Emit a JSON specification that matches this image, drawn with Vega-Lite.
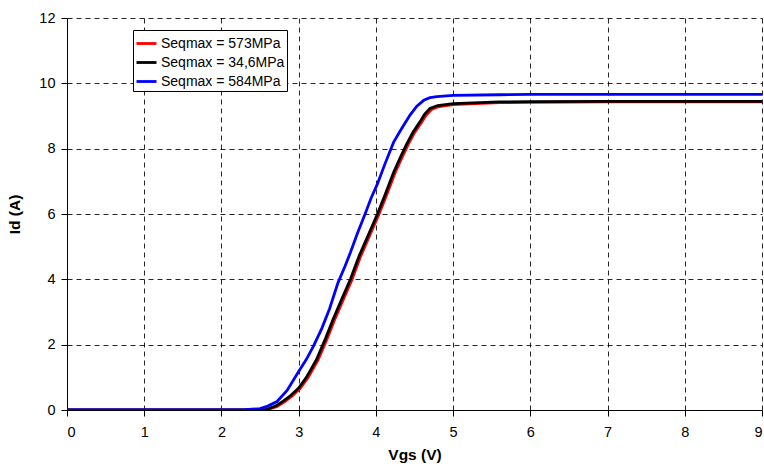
{
  "$schema": "https://vega.github.io/schema/vega-lite/v6.json",
  "autosize": {"type": "none"},
  "width": 695,
  "height": 392,
  "padding": {"left": 67, "top": 18, "right": 2, "bottom": 62},
  "background": "white",
  "config": {
    "view": {"stroke": null},
    "font": "Liberation Sans",
    "axis": {
      "grid": true,
      "gridColor": "#000000",
      "gridDash": [5, 4],
      "gridWidth": 1,
      "gridOpacity": 0.85,
      "domainColor": "#000000",
      "domainWidth": 1,
      "tickColor": "#000000",
      "tickSize": 6,
      "labelFont": "Liberation Sans",
      "labelFontSize": 14.5,
      "labelColor": "#000000",
      "titleFont": "Liberation Sans",
      "titleFontSize": 15.5,
      "titleFontWeight": "bold",
      "titleColor": "#000000"
    }
  },
  "data": {
    "values": [
      {"s": "Seqmax = 573MPa", "vgs": 0, "id": 0},
      {"s": "Seqmax = 573MPa", "vgs": 1, "id": 0},
      {"s": "Seqmax = 573MPa", "vgs": 2, "id": 0},
      {"s": "Seqmax = 573MPa", "vgs": 2.42, "id": 0},
      {"s": "Seqmax = 573MPa", "vgs": 2.61, "id": 0.02},
      {"s": "Seqmax = 573MPa", "vgs": 2.72, "id": 0.11},
      {"s": "Seqmax = 573MPa", "vgs": 2.82, "id": 0.26},
      {"s": "Seqmax = 573MPa", "vgs": 2.92, "id": 0.44},
      {"s": "Seqmax = 573MPa", "vgs": 3.02, "id": 0.66},
      {"s": "Seqmax = 573MPa", "vgs": 3.12, "id": 0.99},
      {"s": "Seqmax = 573MPa", "vgs": 3.25, "id": 1.53},
      {"s": "Seqmax = 573MPa", "vgs": 3.37, "id": 2.19},
      {"s": "Seqmax = 573MPa", "vgs": 3.47, "id": 2.79},
      {"s": "Seqmax = 573MPa", "vgs": 3.57, "id": 3.34},
      {"s": "Seqmax = 573MPa", "vgs": 3.69, "id": 3.99},
      {"s": "Seqmax = 573MPa", "vgs": 3.8, "id": 4.69},
      {"s": "Seqmax = 573MPa", "vgs": 3.92, "id": 5.34},
      {"s": "Seqmax = 573MPa", "vgs": 4.04, "id": 5.99},
      {"s": "Seqmax = 573MPa", "vgs": 4.14, "id": 6.59},
      {"s": "Seqmax = 573MPa", "vgs": 4.25, "id": 7.27},
      {"s": "Seqmax = 573MPa", "vgs": 4.34, "id": 7.74},
      {"s": "Seqmax = 573MPa", "vgs": 4.42, "id": 8.14},
      {"s": "Seqmax = 573MPa", "vgs": 4.5, "id": 8.49},
      {"s": "Seqmax = 573MPa", "vgs": 4.59, "id": 8.8},
      {"s": "Seqmax = 573MPa", "vgs": 4.65, "id": 9.02},
      {"s": "Seqmax = 573MPa", "vgs": 4.72, "id": 9.2},
      {"s": "Seqmax = 573MPa", "vgs": 4.82, "id": 9.29},
      {"s": "Seqmax = 573MPa", "vgs": 5.0, "id": 9.35},
      {"s": "Seqmax = 573MPa", "vgs": 5.6, "id": 9.41},
      {"s": "Seqmax = 573MPa", "vgs": 6, "id": 9.42},
      {"s": "Seqmax = 573MPa", "vgs": 7, "id": 9.43},
      {"s": "Seqmax = 573MPa", "vgs": 8, "id": 9.43},
      {"s": "Seqmax = 573MPa", "vgs": 9, "id": 9.43},

      {"s": "Seqmax = 34,6MPa", "vgs": 0, "id": 0},
      {"s": "Seqmax = 34,6MPa", "vgs": 1, "id": 0},
      {"s": "Seqmax = 34,6MPa", "vgs": 2, "id": 0},
      {"s": "Seqmax = 34,6MPa", "vgs": 2.4, "id": 0},
      {"s": "Seqmax = 34,6MPa", "vgs": 2.59, "id": 0.02},
      {"s": "Seqmax = 34,6MPa", "vgs": 2.7, "id": 0.12},
      {"s": "Seqmax = 34,6MPa", "vgs": 2.8, "id": 0.27},
      {"s": "Seqmax = 34,6MPa", "vgs": 2.9, "id": 0.45},
      {"s": "Seqmax = 34,6MPa", "vgs": 3.0, "id": 0.67},
      {"s": "Seqmax = 34,6MPa", "vgs": 3.1, "id": 1.0},
      {"s": "Seqmax = 34,6MPa", "vgs": 3.23, "id": 1.54},
      {"s": "Seqmax = 34,6MPa", "vgs": 3.35, "id": 2.2},
      {"s": "Seqmax = 34,6MPa", "vgs": 3.45, "id": 2.8},
      {"s": "Seqmax = 34,6MPa", "vgs": 3.55, "id": 3.35},
      {"s": "Seqmax = 34,6MPa", "vgs": 3.67, "id": 4.0},
      {"s": "Seqmax = 34,6MPa", "vgs": 3.78, "id": 4.7},
      {"s": "Seqmax = 34,6MPa", "vgs": 3.9, "id": 5.35},
      {"s": "Seqmax = 34,6MPa", "vgs": 4.02, "id": 6.0},
      {"s": "Seqmax = 34,6MPa", "vgs": 4.12, "id": 6.6},
      {"s": "Seqmax = 34,6MPa", "vgs": 4.23, "id": 7.28},
      {"s": "Seqmax = 34,6MPa", "vgs": 4.32, "id": 7.75},
      {"s": "Seqmax = 34,6MPa", "vgs": 4.4, "id": 8.15},
      {"s": "Seqmax = 34,6MPa", "vgs": 4.48, "id": 8.5},
      {"s": "Seqmax = 34,6MPa", "vgs": 4.57, "id": 8.82},
      {"s": "Seqmax = 34,6MPa", "vgs": 4.63, "id": 9.05},
      {"s": "Seqmax = 34,6MPa", "vgs": 4.7, "id": 9.23},
      {"s": "Seqmax = 34,6MPa", "vgs": 4.8, "id": 9.32},
      {"s": "Seqmax = 34,6MPa", "vgs": 5.0, "id": 9.38},
      {"s": "Seqmax = 34,6MPa", "vgs": 5.6, "id": 9.43},
      {"s": "Seqmax = 34,6MPa", "vgs": 6, "id": 9.44},
      {"s": "Seqmax = 34,6MPa", "vgs": 7, "id": 9.45},
      {"s": "Seqmax = 34,6MPa", "vgs": 8, "id": 9.45},
      {"s": "Seqmax = 34,6MPa", "vgs": 9, "id": 9.45},

      {"s": "Seqmax = 584MPa", "vgs": 0, "id": 0},
      {"s": "Seqmax = 584MPa", "vgs": 1, "id": 0},
      {"s": "Seqmax = 584MPa", "vgs": 2, "id": 0},
      {"s": "Seqmax = 584MPa", "vgs": 2.3, "id": 0.01},
      {"s": "Seqmax = 584MPa", "vgs": 2.5, "id": 0.04},
      {"s": "Seqmax = 584MPa", "vgs": 2.6, "id": 0.12},
      {"s": "Seqmax = 584MPa", "vgs": 2.72, "id": 0.26},
      {"s": "Seqmax = 584MPa", "vgs": 2.85, "id": 0.6},
      {"s": "Seqmax = 584MPa", "vgs": 3.0, "id": 1.18},
      {"s": "Seqmax = 584MPa", "vgs": 3.1, "id": 1.55},
      {"s": "Seqmax = 584MPa", "vgs": 3.19, "id": 1.95},
      {"s": "Seqmax = 584MPa", "vgs": 3.3, "id": 2.5},
      {"s": "Seqmax = 584MPa", "vgs": 3.4, "id": 3.1},
      {"s": "Seqmax = 584MPa", "vgs": 3.51, "id": 3.9},
      {"s": "Seqmax = 584MPa", "vgs": 3.6, "id": 4.4},
      {"s": "Seqmax = 584MPa", "vgs": 3.67, "id": 4.82},
      {"s": "Seqmax = 584MPa", "vgs": 3.76, "id": 5.4},
      {"s": "Seqmax = 584MPa", "vgs": 3.86, "id": 6.0},
      {"s": "Seqmax = 584MPa", "vgs": 3.94, "id": 6.5},
      {"s": "Seqmax = 584MPa", "vgs": 4.02, "id": 6.92},
      {"s": "Seqmax = 584MPa", "vgs": 4.12, "id": 7.55},
      {"s": "Seqmax = 584MPa", "vgs": 4.23, "id": 8.2},
      {"s": "Seqmax = 584MPa", "vgs": 4.33, "id": 8.6},
      {"s": "Seqmax = 584MPa", "vgs": 4.44, "id": 9.02},
      {"s": "Seqmax = 584MPa", "vgs": 4.53, "id": 9.3},
      {"s": "Seqmax = 584MPa", "vgs": 4.62, "id": 9.48},
      {"s": "Seqmax = 584MPa", "vgs": 4.7, "id": 9.56},
      {"s": "Seqmax = 584MPa", "vgs": 4.79, "id": 9.59},
      {"s": "Seqmax = 584MPa", "vgs": 5.0, "id": 9.63},
      {"s": "Seqmax = 584MPa", "vgs": 5.6, "id": 9.65},
      {"s": "Seqmax = 584MPa", "vgs": 6, "id": 9.66},
      {"s": "Seqmax = 584MPa", "vgs": 7, "id": 9.66},
      {"s": "Seqmax = 584MPa", "vgs": 8, "id": 9.66},
      {"s": "Seqmax = 584MPa", "vgs": 9, "id": 9.66}
    ]
  },
  "mark": {"type": "line", "strokeWidth": 2.8, "clip": true},
  "encoding": {
    "x": {
      "field": "vgs",
      "type": "quantitative",
      "scale": {"domain": [0, 9], "nice": false, "zero": true},
      "axis": {"title": "Vgs (V)", "values": [0,1,2,3,4,5,6,7,8,9], "labelPadding": 9, "titlePadding": 9}
    },
    "y": {
      "field": "id",
      "type": "quantitative",
      "scale": {"domain": [0, 12], "nice": false},
      "axis": {"title": "Id (A)", "values": [0,2,4,6,8,10,12], "labelPadding": 6, "titlePadding": 16}
    },
    "color": {
      "field": "s",
      "type": "nominal",
      "sort": ["Seqmax = 573MPa", "Seqmax = 34,6MPa", "Seqmax = 584MPa"],
      "scale": {
        "domain": ["Seqmax = 573MPa", "Seqmax = 34,6MPa", "Seqmax = 584MPa"],
        "range": ["#FF0000", "#000000", "#0000FF"]
      },
      "legend": {
        "title": null,
        "orient": "none",
        "legendX": 66,
        "legendY": 12,
        "symbolType": "stroke",
        "symbolSize": 400,
        "symbolStrokeWidth": 2.8,
        "labelFont": "Liberation Sans",
        "labelFontSize": 14,
        "labelColor": "#000000",
        "rowPadding": 0,
        "fillColor": "white",
        "strokeColor": "#000000",
        "padding": 2,
        "labelOffset": 3
      }
    },
    "order": {"field": "s", "sort": "ascending"}
  }
}
